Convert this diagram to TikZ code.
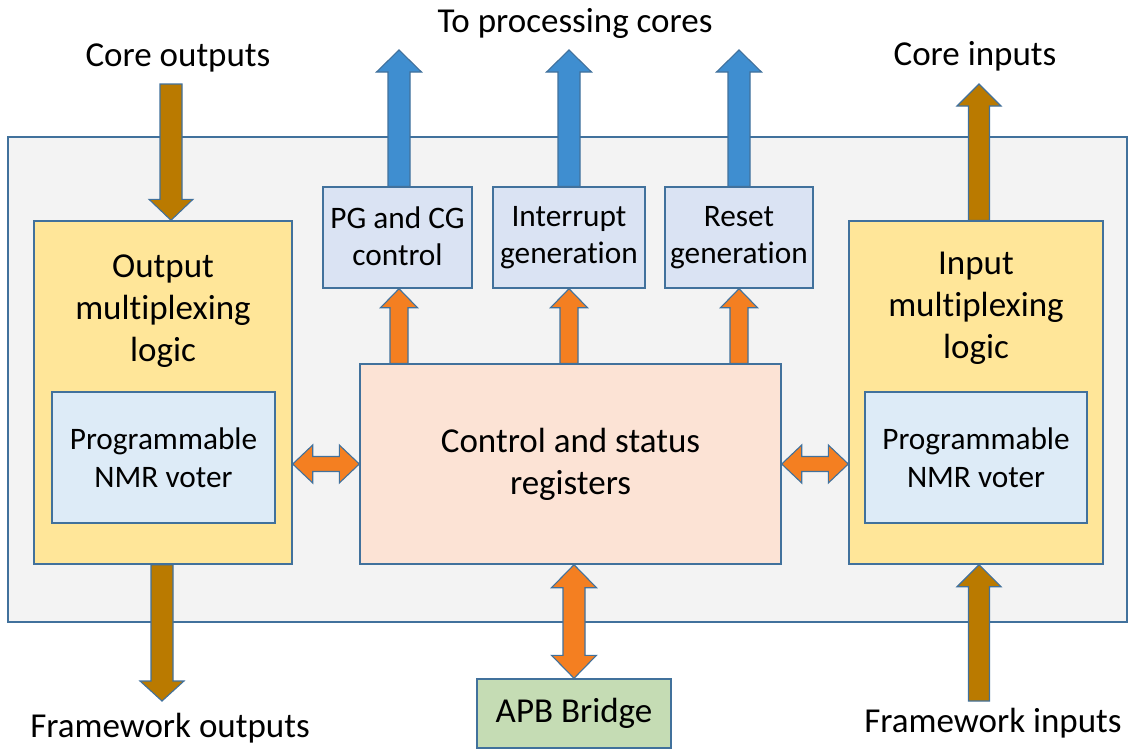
\documentclass[tikz,border=0pt]{standalone}
\usepackage{fontspec}
\setmainfont{Carlito}[Ligatures=NoCommon]
\usetikzlibrary{calc}
\definecolor{bord}{HTML}{41719C}
\definecolor{contfill}{HTML}{F3F3F3}
\definecolor{yel}{HTML}{FFE699}
\definecolor{voter}{HTML}{DDEBF7}
\definecolor{topbox}{HTML}{DAE3F3}
\definecolor{ctrlfill}{HTML}{FCE3D5}
\definecolor{apbfill}{HTML}{C5DCB4}
\definecolor{brown}{HTML}{BA7A00}
\definecolor{orng}{HTML}{F47F21}
\definecolor{blu}{HTML}{3F8ED0}
\newcommand{\fA}{\fontsize{35}{42}\selectfont}
\newcommand{\fB}{\fontsize{31.3}{37.5}\selectfont}
% vertical single block arrow: style, from, tip, shaft half width, head half width, head length
\newcommand{\blkv}[6]{%
 \path[#1] let \p1=#2, \p2=#3, \n1={sign(\y2-\y1)} in
 ({\x1-#4},\y1) -- ({\x1-#4},{\y2-(\n1)*#6}) -- ({\x1-#5},{\y2-(\n1)*#6}) -- (\x1,\y2)
 -- ({\x1+#5},{\y2-(\n1)*#6}) -- ({\x1+#4},{\y2-(\n1)*#6}) -- ({\x1+#4},\y1) -- cycle;}
% vertical double block arrow
\newcommand{\blkvv}[6]{%
 \path[#1] let \p1=#2, \p2=#3, \n1={sign(\y2-\y1)} in
 (\x1,\y1) -- ({\x1+#5},{\y1+(\n1)*#6}) -- ({\x1+#4},{\y1+(\n1)*#6}) -- ({\x1+#4},{\y2-(\n1)*#6})
 -- ({\x1+#5},{\y2-(\n1)*#6}) -- (\x1,\y2) -- ({\x1-#5},{\y2-(\n1)*#6}) -- ({\x1-#4},{\y2-(\n1)*#6})
 -- ({\x1-#4},{\y1+(\n1)*#6}) -- ({\x1-#5},{\y1+(\n1)*#6}) -- cycle;}
% horizontal double block arrow
\newcommand{\blkhh}[6]{%
 \path[#1] let \p1=#2, \p2=#3, \n1={sign(\x2-\x1)} in
 (\x1,\y1) -- ({\x1+(\n1)*#6},{\y1+#5}) -- ({\x1+(\n1)*#6},{\y1+#4}) -- ({\x2-(\n1)*#6},{\y1+#4})
 -- ({\x2-(\n1)*#6},{\y1+#5}) -- (\x2,\y1) -- ({\x2-(\n1)*#6},{\y1-#5}) -- ({\x2-(\n1)*#6},{\y1-#4})
 -- ({\x1+(\n1)*#6},{\y1-#4}) -- ({\x1+(\n1)*#6},{\y1-#5}) -- cycle;}
\begin{document}
\begin{tikzpicture}[x=1pt,y=1pt,line join=miter,
  box/.style={draw=bord,line width=1.4pt,inner sep=0pt,align=center},
  lbl/.style={font=\fA,inner sep=0pt,align=center},
  barrow/.style={fill=brown,draw=bord,line width=1.1pt},
  oarrow/.style={fill=orng,draw=bord,line width=1.1pt},
  uarrow/.style={fill=blu,draw=bord,line width=1.1pt}]
\useasboundingbox (0,0) rectangle (1129,-750);
\fill[white] (0,0) rectangle (1129,-750);
% container
\node[box,fill=contfill,minimum width=1119pt,minimum height=485pt] (cont) at (567.5,-379.5) {};
% multiplexing blocks
\node[box,fill=yel,minimum width=258pt,minimum height=343pt] (ly) at (163,-392.5) {};
\node[box,fill=voter,minimum width=223pt,minimum height=131pt,font=\fB] (lv) at (163.5,-457.5) {Programmable\\NMR voter};
\node[lbl] (lt) at (163,-311) {Output\\multiplexing\\logic};
\node[box,fill=yel,minimum width=254pt,minimum height=343pt] (ry) at (976,-392.5) {};
\node[box,fill=voter,minimum width=222pt,minimum height=131pt,font=\fB] (rv) at (976,-457.5) {Programmable\\NMR voter};
\node[lbl] (rt) at (976,-308) {Input\\multiplexing\\logic};
% control
\node[box,fill=ctrlfill,minimum width=421pt,minimum height=200pt,font=\fA] (ctrl) at (570.5,-464) {Control and status\\registers};
% top boxes
\node[box,fill=topbox,minimum width=149pt,minimum height=101pt,font=\fB,text depth=3pt] (pg) at (397.5,-237.5) {PG and CG\\control};
\node[box,fill=topbox,minimum width=152pt,minimum height=101pt,font=\fB] (ir) at (569,-237.5) {Interrupt\\generation};
\node[box,fill=topbox,minimum width=148pt,minimum height=101pt,font=\fB] (rs) at (739,-237.5) {Reset\\generation};
% APB
\node[box,fill=apbfill,minimum width=194pt,minimum height=69pt,font=\fA] (apb) at (574,-713.5) {APB Bridge};
% labels
\node[lbl] (lco) at (178,-58) {Core outputs};
\node[lbl] (ltp) at (575,-23) {To processing cores};
\node[lbl] (lci) at (975,-56) {Core inputs};
\node[lbl] (lfo) at (170,-728) {Framework outputs};
\node[lbl] (lfi) at (993,-723) {Framework inputs};
% free ends
\coordinate (pgo) at (399,-50);
\coordinate (iro) at (569,-50);
\coordinate (rso) at (739,-50);
\coordinate (coin) at (171,-84);
\coordinate (fout) at (162,-701);
\coordinate (cout) at (979,-84);
\coordinate (fin) at (979,-701);
% blue arrows
\blkv{uarrow}{(pg.north -| pgo)}{(pgo)}{11pt}{22.5pt}{22pt}
\blkv{uarrow}{(ir.north -| iro)}{(iro)}{11pt}{22.5pt}{22pt}
\blkv{uarrow}{(rs.north -| rso)}{(rso)}{11pt}{22.5pt}{22pt}
% orange small arrows
\blkv{oarrow}{(ctrl.north -| pgo)}{(pg.south -| pgo)}{9pt}{18.5pt}{19pt}
\blkv{oarrow}{(ctrl.north -| iro)}{(ir.south -| iro)}{9pt}{18.5pt}{19pt}
\blkv{oarrow}{(ctrl.north -| rso)}{(rs.south -| rso)}{9pt}{18.5pt}{19pt}
% brown arrows
\blkv{barrow}{(coin)}{(ly.north -| coin)}{11pt}{22pt}{21pt}
\blkv{barrow}{(ly.south -| fout)}{(fout)}{11pt}{22pt}{20pt}
\blkv{barrow}{(ry.north -| cout)}{(cout)}{10.5pt}{22pt}{22pt}
\blkv{barrow}{(fin)}{(ry.south -| fin)}{10.5pt}{22pt}{22pt}
% double arrows
\blkhh{oarrow}{(ctrl.west)}{(ly.east)}{7.5pt}{19pt}{20pt}
\blkhh{oarrow}{(ctrl.east)}{(ry.west)}{7.5pt}{19pt}{20pt}
\blkvv{oarrow}{(apb.north)}{(ctrl.south)}{11pt}{22.5pt}{23pt}
\end{tikzpicture}
\end{document}
